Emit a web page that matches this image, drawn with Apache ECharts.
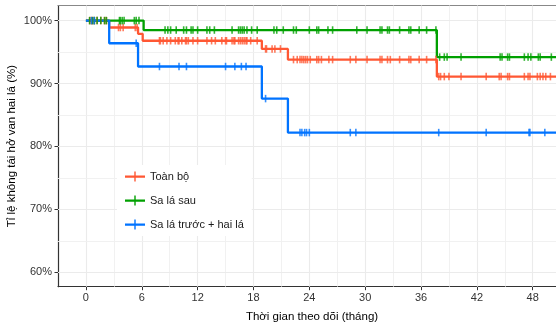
<!DOCTYPE html>
<html><head><meta charset="utf-8">
<script src="https://cdn.jsdelivr.net/npm/echarts@6/dist/echarts.min.js"></script>
<style>html,body{margin:0;padding:0;background:#fff}#c{width:556px;height:324px}</style>
</head><body><div id="c"></div>
<script>
// ---- data ----
const groupNames = ['Toàn bộ', 'Sa lá sau', 'Sa lá trước + hai lá'];
const followUpEnd = 51;

const allTimes = [0, 2.5, 5.6, 6.1, 18.9, 21.7, 37.7];
const allSurv  = [100, 98.9, 97.9, 96.8, 95.5, 93.8, 91.1];
const allCensor = [0.4, 0.6, 0.7, 0.9, 1.2, 1.6, 2.0, 2.2, 3.5, 3.7, 4.0, 5.3, 5.5, 7.9, 8.0, 8.3, 8.7, 9.1, 9.6, 9.9, 10.0, 10.3, 10.7, 10.8, 11.0, 11.5, 12.0, 13.0, 13.5, 13.9, 14.6, 15.0, 15.1, 15.7, 15.9, 16.0, 16.4, 16.6, 16.8, 17.0, 17.2, 17.3, 17.7, 18.4, 19.3, 19.4, 20.0, 20.3, 20.9, 22.3, 22.7, 23.0, 23.2, 23.4, 23.6, 23.8, 24.1, 24.8, 25.0, 25.3, 26.1, 26.5, 28.4, 29.0, 30.2, 31.6, 31.8, 32.4, 32.7, 33.7, 34.7, 34.9, 35.8, 36.6, 37.6, 37.9, 38.1, 38.5, 39.0, 40.3, 43.0, 44.4, 44.6, 45.3, 45.5, 47.1, 47.5, 47.7, 48.5, 48.8, 49.1, 49.4, 49.9];

const postTimes = [0, 6.2, 37.7];
const postSurv  = [100, 98.5, 94.2];
const postCensor = [0.4, 0.7, 0.9, 1.2, 1.6, 2.0, 2.2, 3.6, 3.7, 3.9, 4.1, 5.2, 5.4, 5.7, 8.5, 8.8, 9.1, 9.7, 10.5, 10.8, 11.3, 11.5, 12.0, 13.0, 13.3, 13.8, 15.7, 16.4, 16.6, 16.8, 17.0, 17.3, 17.8, 18.4, 20.2, 20.5, 21.2, 22.3, 22.6, 24.0, 24.8, 25.0, 26.0, 26.5, 29.1, 30.2, 31.6, 31.8, 32.4, 32.6, 33.7, 34.7, 34.9, 35.8, 36.6, 37.6, 38.0, 38.5, 38.8, 40.3, 44.5, 44.7, 45.3, 45.5, 47.1, 47.5, 47.8, 48.6, 48.8, 50.0];

const antTimes = [0, 2.5, 5.6, 18.9, 21.7];
const antSurv  = [100, 96.4, 92.7, 87.6, 82.2];
const antCensor = [0.6, 0.9, 5.4, 7.9, 10.0, 10.8, 15.0, 16.0, 16.7, 17.2, 19.3, 23.0, 23.2, 23.5, 23.7, 24.0, 28.4, 29.0, 37.9, 43.0, 47.6, 47.7, 49.3];

const xTicks = [0, 6, 12, 18, 24, 30, 36, 42, 48];
const xMinorTicks = [3, 9, 15, 21, 27, 33, 39, 45];
const yTicks = [60, 70, 80, 90, 100];
const yMinorTicks = [65, 75, 85, 95];

// ---- build ----
const colors = ['#FF5733', '#00A000', '#0073FF'];
const groups = [
  {times: allTimes, surv: allSurv, censor: allCensor},
  {times: postTimes, surv: postSurv, censor: postCensor},
  {times: antTimes, surv: antSurv, censor: antCensor}
];
function survAt(g, t) {
  let v = g.surv[0];
  for (let i = 0; i < g.times.length; i++) if (g.times[i] <= t) v = g.surv[i];
  return v;
}
const FONT = 'Liberation Sans, Arial, sans-serif';
const series = [];
series.push({
  type: 'line', data: [], silent: true, z: 1,
  markLine: {
    z: 1, silent: true, symbol: ['none', 'none'], label: {show: false}, animation: false,
    emphasis: {disabled: true},
    data: [
      ...xTicks.map(v => ({xAxis: v, lineStyle: {color: '#ebebeb', width: 1.1, type: 'solid'}})),
      ...xMinorTicks.map(v => ({xAxis: v, lineStyle: {color: '#efefef', width: 0.9, type: 'solid'}})),
      ...yTicks.map(v => ({yAxis: v, lineStyle: {color: '#ebebeb', width: 1.1, type: 'solid'}})),
      ...yMinorTicks.map(v => ({yAxis: v, lineStyle: {color: '#efefef', width: 0.9, type: 'solid'}}))
    ]
  }
});
groups.forEach((g, k) => {
  const d = g.times.map((t, i) => [t, g.surv[i]]);
  d.push([followUpEnd, g.surv[g.surv.length - 1]]);
  series.push({
    name: groupNames[k], type: 'line', step: 'end', data: d, showSymbol: false, z: 2,
    color: colors[k], itemStyle: {color: colors[k]},
    lineStyle: {color: colors[k], width: 2.3}, animation: false, silent: true
  });
});
groups.forEach((g, k) => {
  series.push({
    name: 'censor' + k, type: 'scatter', z: 3, silent: true, animation: false,
    symbol: 'rect', symbolSize: [1.6, 7.5],
    itemStyle: {color: colors[k]},
    data: g.censor.map(t => [t, survAt(g, t)])
  });
});
const legendIcon = 'path://M0,4 L20,4 L20,6.2 L0,6.2 Z M9.3,0 L10.7,0 L10.7,10 L9.3,10 Z';
const option = {
  animation: false,
  backgroundColor: '#fff',
  grid: {left: 58, right: 0, top: 5.5, bottom: 37.3, containLabel: false, outerBoundsMode: 'none'},
  legend: {
    z: 20,
    orient: 'vertical', left: 117, top: 165,
    data: groupNames.map(n => ({name: n, icon: legendIcon})),
    itemWidth: 20, itemHeight: 10, itemGap: 13,
    padding: [6, 8, 6, 8], backgroundColor: '#fff',
    textStyle: {fontSize: 11, color: '#1a1a1a', fontFamily: FONT},
    selectedMode: false
  },
  xAxis: [{
    type: 'value', min: -3, max: 50.5,
    name: 'Thời gian theo dõi (tháng)', nameLocation: 'middle', nameGap: 24, nameMoveOverlap: false,
    nameTextStyle: {fontSize: 11.5, color: '#000', fontFamily: FONT, padding: [0, 0, 0, 10]},
    axisLine: {show: true, onZero: false, lineStyle: {color: '#333', width: 1.2}},
    axisTick: {show: true, length: 3.5, customValues: xTicks, lineStyle: {color: '#333'}},
    axisLabel: {customValues: xTicks, fontSize: 11, color: '#333', margin: 6, fontFamily: FONT},
    splitLine: {show: false}
  }, {
    type: 'value', position: 'top', min: -3, max: 50.5,
    axisLine: {show: true, onZero: false, lineStyle: {color: '#888', width: 1}},
    axisTick: {show: false}, axisLabel: {show: false}, splitLine: {show: false}
  }],
  yAxis: {
    type: 'value', min: 57.7, max: 102.4,
    name: 'Tỉ lệ không tái hở van hai lá (%)', nameLocation: 'middle', nameGap: 40, nameMoveOverlap: false,
    nameTextStyle: {fontSize: 11.5, color: '#000', fontFamily: FONT},
    axisLine: {show: true, onZero: false, lineStyle: {color: '#333', width: 1.2}},
    axisTick: {show: true, length: 3.5, customValues: yTicks, lineStyle: {color: '#333'}},
    axisLabel: {customValues: yTicks, formatter: '{value}%', fontSize: 11, color: '#333', margin: 6, fontFamily: FONT},
    splitLine: {show: false}
  },
  series: series
};
const chart = echarts.init(document.getElementById('c'), null, {renderer: 'canvas'});
chart.setOption(option);
</script></body></html>
